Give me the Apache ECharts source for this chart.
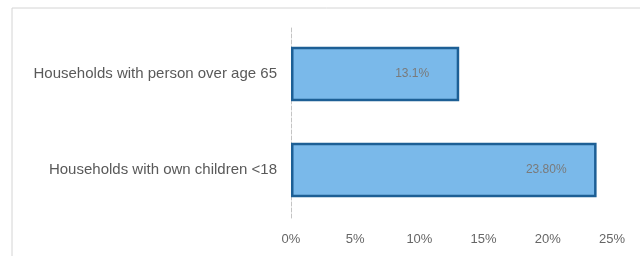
<!DOCTYPE html>
<html>
<head>
<meta charset="utf-8">
<script src="https://cdn.jsdelivr.net/npm/echarts@6/dist/echarts.min.js"></script>
<style>
  html, body { margin: 0; padding: 0; background: #fff; }
  #main { width: 640px; height: 256px; }
</style>
</head>
<body>
<div id="main"></div>
<script>
// categories from bottom to top
var categories = ['Households with own children <18', 'Households with person over age 65'];
var values = [23.8, 13.1];
var valueLabels = ['23.80%', '13.1%'];
var tickLabels = ['0%', '5%', '10%', '15%', '20%', '25%'];

var myChart = echarts.init(document.getElementById('main'));

var option = {
    backgroundColor: '#fff',
    animation: false,
    graphic: [{
        type: 'rect',
        shape: { x: 12, y: 8, width: 640, height: 260 },
        style: { fill: 'none', stroke: '#d4d4d4', lineWidth: 1 }
    }],
    grid: { left: 291, right: 28, top: 26, bottom: 38 },
    xAxis: {
        type: 'value',
        min: 0,
        max: 25,
        interval: 5,
        splitLine: { show: false },
        axisLine: { show: false },
        axisTick: { show: false },
        axisLabel: {
            color: '#666',
            fontSize: 13,
            fontFamily: 'Liberation Sans, sans-serif',
            margin: 15,
            formatter: function (v) { return tickLabels[v / 5]; }
        }
    },
    yAxis: {
        type: 'category',
        data: categories,
        axisLine: { show: true, lineStyle: { color: '#c4c4c4', type: 'dashed', width: 1 } },
        axisTick: { show: false },
        axisLabel: {
            color: '#595959',
            fontSize: 15,
            fontFamily: 'Liberation Sans, sans-serif',
            margin: 14
        }
    },
    series: [{
        type: 'bar',
        data: values,
        barWidth: '57%',
        itemStyle: {
            color: '#7ab9ea',
            borderColor: '#1d5f95',
            borderWidth: 2.5
        },
        label: {
            show: true,
            position: 'insideRight',
            distance: 30,
            color: '#7a7a7a',
            fontSize: 12,
            fontFamily: 'Liberation Sans, sans-serif',
            formatter: function (p) { return valueLabels[p.dataIndex]; }
        }
    }]
};

myChart.setOption(option);
</script>
</body>
</html>
